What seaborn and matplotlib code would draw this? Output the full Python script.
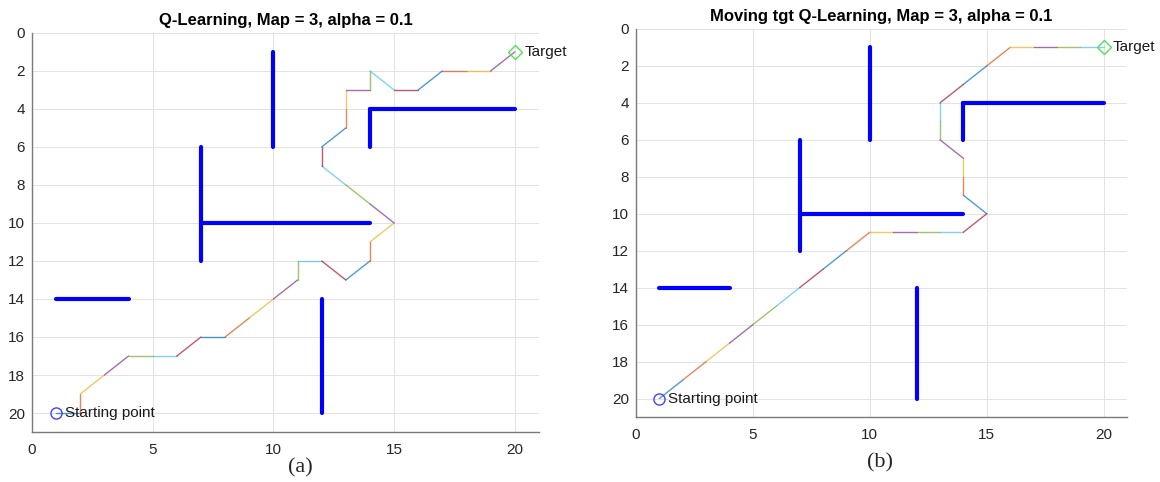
import numpy as np
import pandas as pd
import matplotlib
matplotlib.use('Agg')
import matplotlib.pyplot as plt
import seaborn as sns

## ============================================================= ##

# learned paths (x = column, y = row), start (1,20) -> target
path_a_x = [1, 2, 2, 3, 4, 5, 6, 7, 8, 9, 10, 11, 11, 12, 13, 14, 14, 15, 14, 13, 12, 12, 13, 13, 13, 14, 14, 15, 16, 17, 18, 19, 20]
path_a_y = [20, 20, 19, 18, 17, 17, 17, 16, 16, 15, 14, 13, 12, 12, 13, 12, 11, 10, 9, 8, 7, 6, 5, 4, 3, 3, 2, 3, 3, 2, 2, 2, 1]

path_b_x = [1, 2, 3, 4, 5, 6, 7, 8, 9, 10, 11, 12, 13, 14, 15, 14, 14, 14, 13, 13, 13, 14, 15, 16, 17, 18, 19, 20]
path_b_y = [20, 19, 18, 17, 16, 15, 14, 13, 12, 11, 11, 11, 11, 11, 10, 9, 8, 7, 6, 5, 4, 3, 2, 1, 1, 1, 1, 1]

# obstacles of map 3: x0, y0, x1, y1
walls = [(10, 1, 10, 6),
         (14, 4, 14, 6),
         (14, 4, 20, 4),
         (7, 6, 7, 12),
         (7, 10, 14, 10),
         (1, 14, 4, 14),
         (12, 14, 12, 20)]

start = (1, 20)
target = (20, 1)

titles = ['Q-Learning, Map = 3, alpha = 0.1', 'Moving tgt Q-Learning, Map = 3, alpha = 0.1']
panel_labels = ['(a)', '(b)']

matlab_colors = ['#0072BD', '#D95319', '#EDB120', '#7E2F8E', '#77AC30', '#4DBEEE', '#A2142F']

## ============================================================= ##

sns.set_style('white')
plt.rcParams['font.family'] = ['Liberation Sans', 'DejaVu Sans']

df_walls = pd.DataFrame([{'wall': i, 'x': w[k], 'y': w[k + 1]}
                         for i, w in enumerate(walls) for k in (0, 2)])


def path_frame(xs, ys):
    rows = []
    for i in range(len(xs) - 1):
        rows.append({'seg': i, 'x': xs[i], 'y': ys[i]})
        rows.append({'seg': i, 'x': xs[i + 1], 'y': ys[i + 1]})
    return pd.DataFrame(rows)


fig = plt.figure(figsize=(11.6, 4.82), dpi=100)
ax_a = fig.add_axes([0.0276, 0.1037, 0.437, 0.828])
ax_b = fig.add_axes([0.5483, 0.1349, 0.4233, 0.805])

for ax, xs, ys, title in zip([ax_a, ax_b], [path_a_x, path_b_x], [path_a_y, path_b_y], titles):
    dfp = path_frame(xs, ys)
    nseg = dfp['seg'].nunique()
    pal = [matlab_colors[i % 7] for i in range(nseg)]
    sns.lineplot(data=df_walls, x='x', y='y', units='wall', estimator=None, sort=False,
                 color='#0000ff', lw=3, ax=ax, zorder=3)
    sns.lineplot(data=dfp, x='x', y='y', hue='seg', palette=pal, units='seg', estimator=None,
                 sort=False, lw=1.0, alpha=0.7, legend=False, ax=ax, zorder=4)
    ax.plot(*start, 'o', mfc='none', mec='#4040ff', ms=8, mew=1, zorder=5)
    ax.plot(*target, 'D', mfc='none', mec='#55e055', ms=7, mew=1, zorder=5)
    ax.text(start[0] + 0.35, start[1], 'Starting point', fontsize=11, va='center', color='#1a1a1a', zorder=6)
    ax.text(target[0] + 0.4, target[1], 'Target', fontsize=11, va='center', color='#1a1a1a', zorder=6)

    ax.set_xlim(0, 21)
    ax.set_ylim(21, 0)
    ax.set_xticks(np.arange(0, 25, 5))
    ax.set_yticks(np.arange(0, 22, 2))
    ax.grid(True, color='#e3e3e3', lw=0.7)
    ax.set_axisbelow(True)
    ax.set_xlabel('')
    ax.set_ylabel('')
    ax.set_title(title, fontsize=12, fontweight='bold', color='black', pad=6)
    for s in ['top', 'right']:
        ax.spines[s].set_visible(False)
    for s in ['left', 'bottom']:
        ax.spines[s].set_color('#7a7a7a')
        ax.spines[s].set_linewidth(1.0)
    ax.tick_params(direction='in', length=3, width=0.8, color='#7a7a7a',
                   labelsize=11, labelcolor='#262626')
    ax.tick_params(axis='x', pad=8)
    ax.tick_params(axis='y', pad=5)

fig.text(0.259, 0.03, panel_labels[0], fontsize=16, family=['Liberation Serif'], ha='center', va='center')
fig.text(0.759, 0.04, panel_labels[1], fontsize=16, family=['Liberation Serif'], ha='center', va='center')

fig.savefig('out.png', dpi=100)
